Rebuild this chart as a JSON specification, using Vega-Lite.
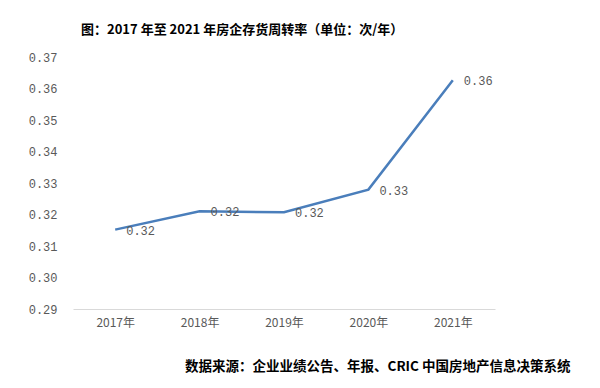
{
  "$schema": "https://vega.github.io/schema/vega-lite/v6.json",
  "width": 422,
  "height": 252,
  "autosize": {"type": "none"},
  "padding": {"left": 73, "top": 57, "right": 105, "bottom": 79},
  "background": "white",
  "config": {"view": {"stroke": null}},
  "title": {
    "text": "图：2017 年至 2021 年房企存货周转率（单位：次/年）",
    "anchor": "start",
    "frame": "group",
    "dx": 8,
    "offset": 14,
    "font": "Noto Sans CJK SC",
    "fontSize": 13,
    "fontWeight": "bold",
    "color": "#000000"
  },
  "data": {
    "values": [
      {"year": "2017年", "value": 0.3152},
      {"year": "2018年", "value": 0.3210},
      {"year": "2019年", "value": 0.3207},
      {"year": "2020年", "value": 0.3279},
      {"year": "2021年", "value": 0.3626}
    ]
  },
  "encoding": {
    "x": {
      "field": "year",
      "type": "ordinal",
      "scale": {"type": "point", "padding": 0.5},
      "axis": {
        "title": "数据来源：企业业绩公告、年报、CRIC 中国房地产信息决策系统",
        "titleFont": "Noto Sans CJK SC",
        "titleFontSize": 13.5,
        "titleFontWeight": "bold",
        "titleColor": "#000000",
        "titleAnchor": "end",
        "titleAlign": "right",
        "titleBaseline": "middle",
        "titleX": 497,
        "titleY": 57,
        "labelAngle": 0,
        "labelFont": "Noto Sans CJK SC",
        "labelFontSize": 12,
        "labelColor": "#595959",
        "labelPadding": 8,
        "ticks": false,
        "domainColor": "#d9d9d9",
        "domainWidth": 1,
        "grid": false
      }
    },
    "y": {
      "field": "value",
      "type": "quantitative",
      "scale": {"domain": [0.29, 0.37], "nice": false, "zero": false},
      "axis": {
        "title": null,
        "values": [0.29, 0.30, 0.31, 0.32, 0.33, 0.34, 0.35, 0.36, 0.37],
        "format": ".2f",
        "labelFont": "Liberation Mono",
        "labelFontSize": 12,
        "labelColor": "#595959",
        "labelPadding": 16,
        "ticks": false,
        "domain": false,
        "grid": false
      }
    }
  },
  "layer": [
    {
      "mark": {"type": "line", "color": "#4a7ebb", "strokeWidth": 2.5}
    },
    {
      "mark": {
        "type": "text",
        "align": "left",
        "baseline": "middle",
        "dx": 11,
        "dy": 1,
        "font": "Liberation Mono",
        "fontSize": 12,
        "color": "#595959"
      },
      "encoding": {
        "text": {"field": "value", "type": "quantitative", "format": ".2f"}
      }
    }
  ]
}
